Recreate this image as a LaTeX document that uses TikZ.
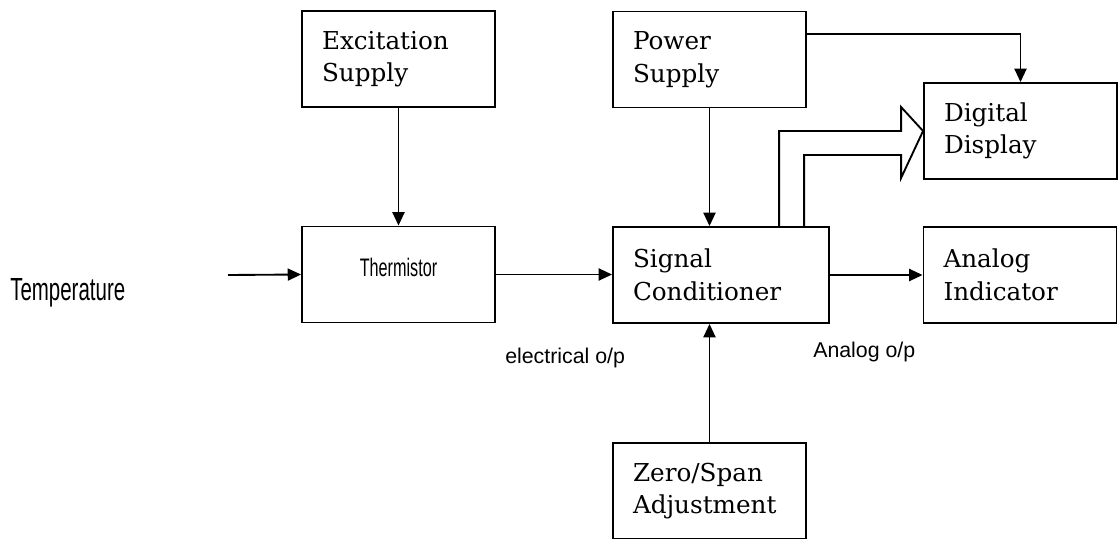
\documentclass[tikz,border=0pt]{standalone}
\usepackage{fontspec}
\usepackage{tikz}
\usetikzlibrary{arrows.meta,calc}
\newfontfamily\boxfont{DejaVu Serif}
\newfontfamily\labelfont{Liberation Sans}
\newfontfamily\narrowfont[FakeStretch=0.64]{Liberation Sans}

\begin{document}
\begin{tikzpicture}[
    x=0.75pt, y=-0.75pt,
    block/.style={rectangle,draw,line width=1.4pt,minimum height=72pt,
                  inner xsep=15pt,inner ysep=0pt,text width=#1,align=left,
                  font=\boxfont\fontsize{18.5}{24.5}\selectfont},
    block/.default=114.75pt,
    arrow/.style={-{Triangle[length=10pt,width=9pt]},line width=1.4pt},
    hollow/.style={line width=1.4pt,line join=miter},
    outlabel/.style={font=\labelfont\fontsize{16}{19}\selectfont,anchor=base west,inner sep=0pt}
]
\useasboundingbox (0,0) rectangle (1118,539);

% blocks
\node[block] (excite)  at (398.5,59)   {Excitation\\Supply};
\node[block] (power)   at (709.5,59.5) {Power\\Supply};
\node[block] (digital) at (1020.5,131) {Digital\\Display};
\node[block,align=center,text height=13.5pt,text depth=11pt,
      font=\narrowfont\fontsize{19}{22}\selectfont] (therm) at (398.5,274.5) {Thermistor};
\node[block=132pt] (sigcond) at (721,275)  {Signal\\Conditioner};
\node[block]       (analog)  at (1020,275) {Analog\\Indicator};
\node[block]       (zero)    at (709.5,491) {Zero/Span\\Adjustment};

% outside labels
\node[font=\narrowfont\fontsize{24}{28}\selectfont,anchor=base west,inner sep=0pt] (temp) at (10,300) {Temperature};
\node[outlabel] (elec)  at (505,363) {electrical o/p};
\node[outlabel] (anout) at (813,357) {Analog o/p};

% connectors
\coordinate (tin) at (228,275);
\draw[arrow] (tin) -- (therm.west);
\draw[arrow] (excite) -- (therm);
\draw[arrow] (therm.east) -- (therm.east -| sigcond.west);
\draw[arrow] (power.south) -- (power.south |- sigcond.north);
\draw[arrow] (zero.north) -- (zero.north |- sigcond.south);
\draw[arrow] (sigcond.east) -- (analog.west);
\draw[arrow] ($(power.north east)+(0,23)$) -| (digital.north);

% hollow arrow to the display
\draw[hollow] ($(sigcond.north west)+(167,0)$) |- ($(digital.west)+(-22,0)$)
    -- ++(0,-24) -- (digital.west) -- ($(digital.west)+(-22,47)$)
    -- ++(0,-23) -| ($(sigcond.north west)+(192,0)$);
\end{tikzpicture}
\end{document}
